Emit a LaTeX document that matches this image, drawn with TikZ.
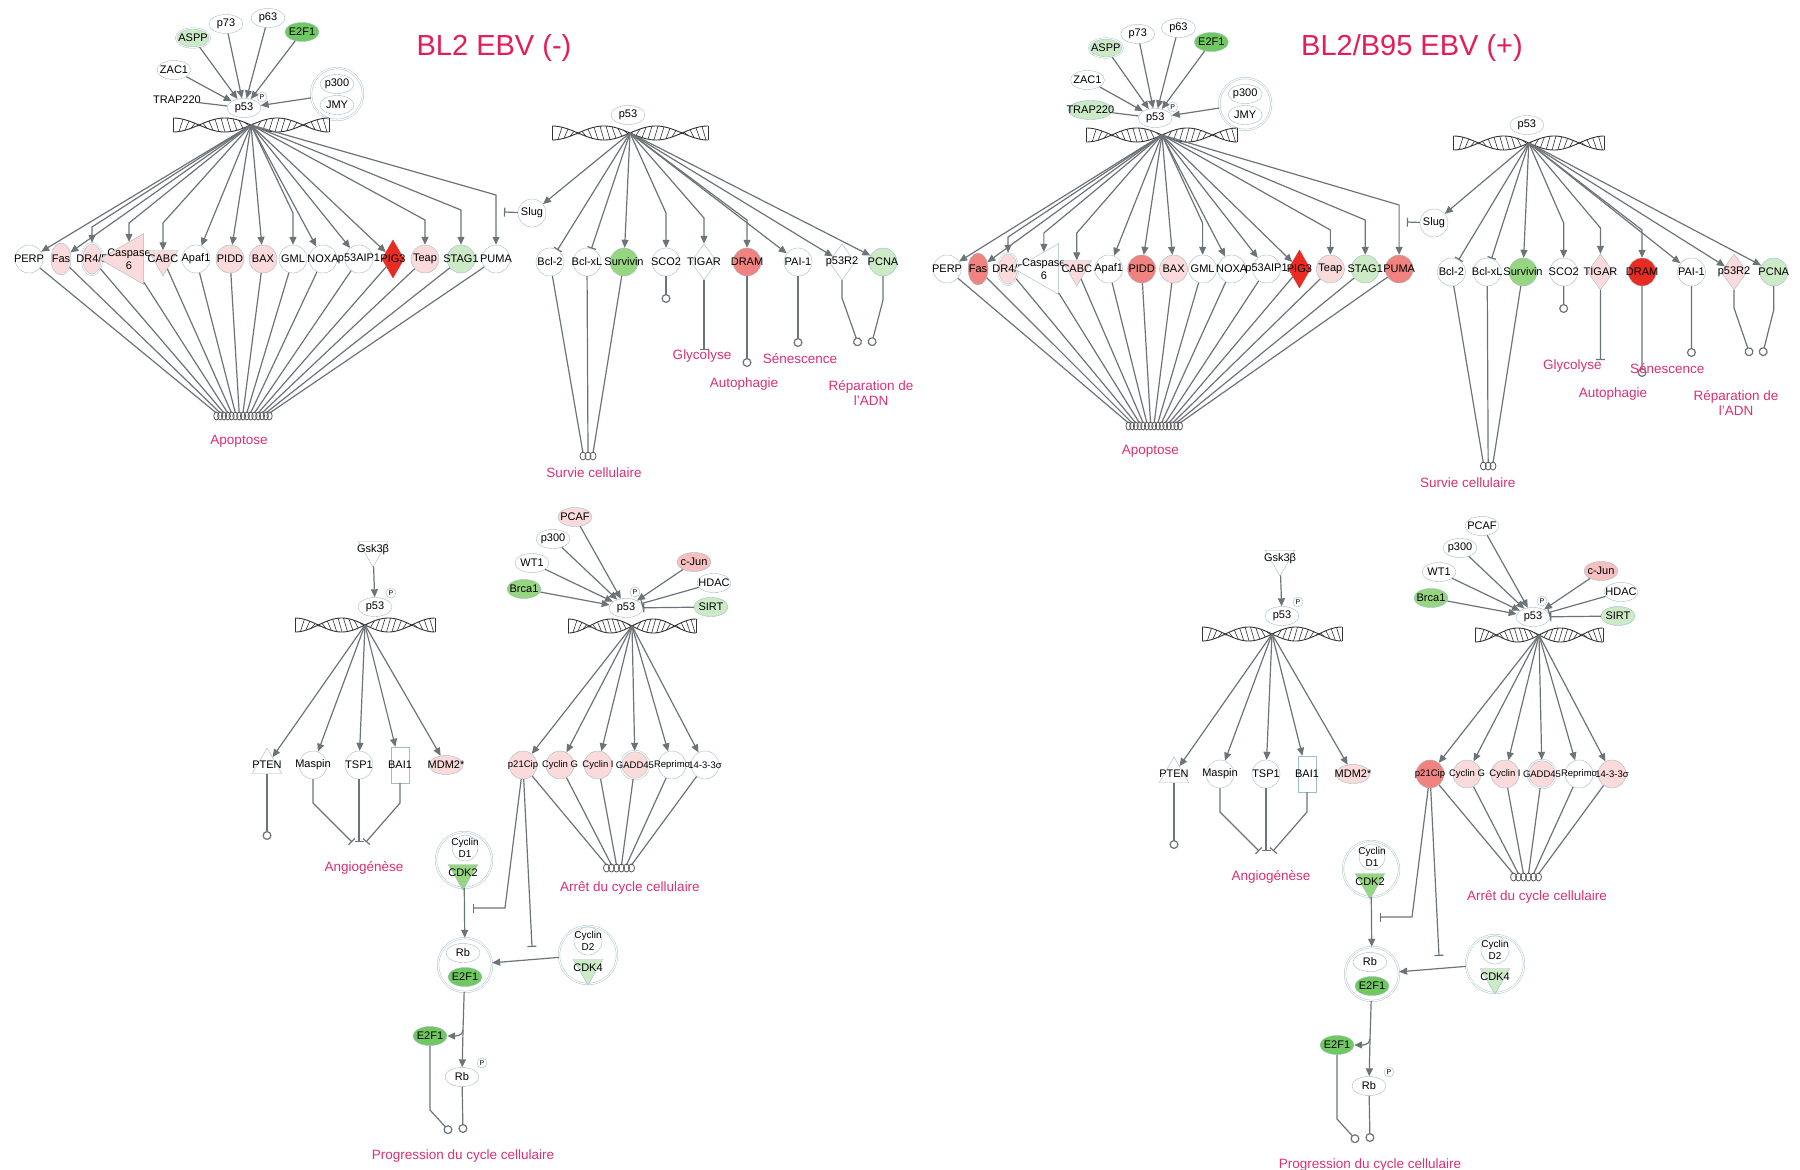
\documentclass[tikz,border=0pt]{standalone}
\usepackage{fontspec}
\setmainfont{Liberation Sans}
\usetikzlibrary{arrows.meta,calc,shapes.geometric}

\definecolor{NodeLine}{RGB}{160,188,198}
\definecolor{Wire}{RGB}{108,116,120}
\definecolor{PinkL}{RGB}{250,218,218}
\definecolor{PinkM}{RGB}{246,192,192}
\definecolor{Salmon}{RGB}{240,130,128}
\definecolor{RedUp}{RGB}{232,44,36}
\definecolor{GreenL}{RGB}{204,234,198}
\definecolor{GreenM}{RGB}{150,214,128}
\definecolor{GreenD}{RGB}{112,200,96}
\definecolor{ProcPink}{RGB}{218,48,118}
\definecolor{TitleRed}{RGB}{228,28,88}

\newcommand{\gl}[1]{\makebox[0pt]{#1}}

\tikzset{
  nodebase/.style={draw=NodeLine,fill=white,inner sep=0pt,font=\fontsize{11}{11}\selectfont},
  gene/.style={nodebase,circle,minimum size=28pt},
  dgene/.style={gene,double,double distance=1.2pt},
  ovalt/.style={nodebase,ellipse,minimum width=20pt,minimum height=32pt},
  dovalt/.style={ovalt,double,double distance=1pt},
  reg/.style={nodebase,ellipse,minimum width=34pt,minimum height=19pt},
  enz/.style={nodebase,diamond,minimum width=26pt,minimum height=36pt},
  pig/.style={nodebase,diamond,draw=RedUp,minimum width=22pt,minimum height=38pt},
  kin/.style={nodebase,regular polygon,regular polygon sides=3,shape border rotate=180,minimum size=34pt},
  phos3/.style={nodebase,regular polygon,regular polygon sides=3,minimum size=34pt},
  pept/.style={nodebase,regular polygon,regular polygon sides=3,shape border rotate=90,minimum size=25pt},
  gpcr/.style={nodebase,rectangle,minimum width=18pt,minimum height=36pt},
  cplx/.style={draw=NodeLine,double,double distance=1.2pt,circle,inner sep=0pt},
  phos/.style={draw=NodeLine,fill=white,circle,inner sep=0pt,minimum size=10pt,font=\fontsize{7}{7}\selectfont},
  proc/.style={text=ProcPink,font=\fontsize{13.5}{15}\selectfont,align=center},
  headline/.style={text=TitleRed,font=\fontsize{29}{30}\selectfont},
  wire/.style={draw=Wire,line width=1.2pt},
  act/.style={wire,-{Triangle[length=8pt,width=7pt]}},
  inh/.style={wire,-{Bar[width=9pt]}},
  endo/.style={wire,-{Circle[open,length=9pt,width=9pt]}},
  strand/.style={draw=black!80,line width=0.9pt},
  coil/.style={draw=black!65,line width=0.8pt}
}

% DNA helix: name, centre, half width
\newcommand{\helix}[3]{%
  \coordinate (#1) at #2;
  \begin{scope}[shift={#2}]
    \draw[strand] plot[domain=-#3:#3,samples=72,smooth] (\x,{7*cos(270*(\x/#3+1))});
    \draw[strand] plot[domain=-#3:#3,samples=72,smooth] (\x,{-7*cos(270*(\x/#3+1))});
    \draw[strand] (-#3,-7) -- (-#3,7) (#3,-7) -- (#3,7);
    \foreach \h in {1,...,25}{
      \pgfmathsetmacro\ha{-#3+\h*#3/13}
      \pgfmathsetmacro\hb{\ha+4}
      \draw[strand,line width=0.6pt] (\ha,{7*cos(270*(\ha/#3+1))}) -- (\hb,{-7*cos(270*(\hb/#3+1))});
    }
  \end{scope}}

% apoptosis network
\newcommand{\apopnet}[1]{%
  \node[reg] (#1p53a) at (244,108) {\gl{p53}};
  \node[phos] (#1p53aP) at (262,97) {P};
  \node[reg,fill=GreenL,double,double distance=1pt] (#1ASPP) at (193,38) {\gl{ASPP}};
  \node[reg,fill=GreenD] (#1E2Fa) at (302,32) {\gl{E2F1}};
  \foreach \n/\t/\x/\y in {p73/p73/226/24, p63/p63/268/18, ZAC/ZAC1/174/70}
    \node[reg] (#1\n) at (\x,\y) {\gl{\t}};
  \node[reg,minimum width=44pt,fill=cTRAP,draw=cTRAPd] (#1TRAP) at (177,100) {\gl{TRAP220}};
  \node[cplx,minimum size=52pt] (#1cpxJ) at (337,94) {};
  \node[reg] (#1p300a) at (337,84) {\gl{p300}};
  \node[reg] (#1JMY) at (337,105) {\gl{JMY}};
  \foreach \n in {ASPP,p73,p63,E2Fa,ZAC}
    \draw[act] (#1\n) -- (#1p53a);
  \draw[wire] (#1TRAP) -- (#1p53a);
  \draw[act] (#1cpxJ) -- (#1p53a);
  \helix{#1dnaA}{(251,125)}{78}
  \coordinate (#1apo) at (243,416);
  \foreach \n/\t/\s/\x/\k/\c [count=\i] in {
      PERP/PERP/gene/29/0/white,
      Fas/Fas/ovalt/61/0/cFas,
      DR/{DR4/5}/dovalt/92/32/PinkL,
      Casp/{\shortstack{Caspase\\6}}/pept/129/36/cCasp,
      CABC/CABC/kin/163/36/PinkL,
      Apaf/Apaf1/gene/196/0/white,
      PIDD/PIDD/gene/230/0/cPIDD,
      BAX/BAX/gene/263/0/PinkL,
      GML/GML/gene/293/46/white,
      NOXA/NOXA/gene/323/0/white,
      AIP/p53AIP1/gene/359/0/white,
      PIG/PIG3/pig/393/0/RedUp,
      Teap/Teap/gene/425/39/PinkL,
      STAG/STAG1/gene/461/49/GreenL,
      PUMA/PUMA/gene/496/64/cPUMA}{
    \node[\s,fill=\c] (#1\n) at (\x,259) {\gl{\t}};
    \ifnum\k=0 \draw[act] (#1dnaA) -- (#1\n);
    \else \draw[act] (#1dnaA) -- ([yshift=\k pt]#1\n.center) -- (#1\n);\fi
    \draw[wire] (#1\n) -- ($(#1apo)+(\i*3.8-30.4,-3)$);
    \draw[coil] ($(#1apo)+(\i*3.8-30.4,0)$) circle[x radius=2.6pt,y radius=4pt];
  }
  \node[proc] (#1apoL) at (239,441) {Apoptose};
}

% survival, metabolism and repair network
\newcommand{\fatenet}[2]{%
  \node[reg] (#1p53b) at (628,115) {\gl{p53}};
  \helix{#1dnaB}{(630,133)}{78}
  \node[gene] (#1Slug) at (532,213) {\gl{Slug}};
  \coordinate (#1slugT) at (504,212);
  \draw[act] (#1dnaB) -- (#1Slug);
  \draw[inh] (#1Slug) -- (#1slugT);
  \foreach \n/\t/\s/\x/\k/\e/\c in {
      Bcl/Bcl-2/gene/550/0/inh/white,
      BclxL/Bcl-xL/gene/587/0/inh/white,
      Surv/Survivin/gene/624/0/act/GreenM,
      SCO/SCO2/gene/666/49/act/white,
      TIG/TIGAR/enz/704/44/act/cTIG,
      DRAM/DRAM/gene/747/42/act/cDRAM,
      PAI/PAI-1/gene/798/0/act/white,
      RR/p53R2/enz/842/0/act/cRR,
      PCNA/PCNA/gene/883/0/act/GreenL}{
    \node[\s,fill=\c] (#1\n) at (\x,262) {\gl{\t}};
    \ifnum\k=0 \draw[\e] (#1dnaB) -- (#1\n);
    \else \draw[\e] (#1dnaB) -- ([yshift=\k pt]#1\n.center) -- (#1\n);\fi
  }
  \coordinate (#1surv) at (588,456);
  \foreach \n [count=\i] in {Bcl,BclxL,Surv}{
    \draw[wire] (#1\n) -- ($(#1surv)+(\i*5-10,-3)$);
    \draw[coil] ($(#1surv)+(\i*5-10,0)$) circle[x radius=3pt,y radius=4pt];
  }
  \coordinate (#1scoE) at (666,303);
  \coordinate (#1glyT) at (704,350);
  \coordinate (#1dramE) at (747,367);
  \coordinate (#1paiE) at (798,347);
  \coordinate (#1repA) at (859,346);
  \coordinate (#1repB) at (871,346);
  \draw[endo] (#1SCO) -- (#1scoE);
  \draw[inh] (#1TIG) -- (#1glyT);
  \draw[endo] (#1DRAM) -- (#1dramE);
  \draw[endo] (#1PAI) -- (#1paiE);
  \draw[endo] (#1RR) -- ([yshift=-36pt]#1RR.center) -- (#1repA);
  \draw[endo] (#1PCNA) -- ([yshift=-38pt]#1PCNA.center) -- (#1repB);
  \node[proc] (#1glyL) at (702+#2,356) {Glycolyse};
  \node[proc] (#1autL) at (744+#2,384) {Autophagie};
  \node[proc] (#1senL) at (800+#2,359) {Sénescence};
  \node[proc] (#1repL) at (871+#2,393) {Réparation de\\l'ADN};
  \node[proc] (#1survL) at (594+#2,473) {Survie cellulaire};
}

% angiogenesis, cell cycle arrest and Rb/E2F1
\newcommand{\lowernet}[1]{%
  %% angiogenesis
  \node[kin] (#1Gsk) at (373,550) {\gl{Gsk3β}};
  \node[reg] (#1p53c) at (375,607) {\gl{p53}};
  \node[phos] (#1p53cP) at (391,593) {P};
  \draw[act] (#1Gsk) -- (#1p53c);
  \helix{#1dnaC}{(365,625)}{70}
  \foreach \n/\t/\s/\x/\c in {PTEN/PTEN/phos3/267/white, Masp/Maspin/gene/313/white,
      TSP/TSP1/gene/359/white, BAI/BAI1/gpcr/400/white, MDM/MDM2*/reg/446/PinkL}{
    \node[\s,fill=\c] (#1\n) at (\x,765) {\gl{\t}};
    \draw[act] (#1dnaC) -- (#1\n);
  }
  \coordinate (#1ptenE) at (267,840);
  \coordinate (#1angio) at (359,842);
  \draw[endo] (#1PTEN) -- (#1ptenE);
  \draw[inh] (#1Masp) -- ([yshift=-38pt]#1Masp.center) -- ([xshift=-7pt]#1angio);
  \draw[inh] (#1TSP) -- (#1angio);
  \draw[inh] (#1BAI) -- ([yshift=-38pt]#1BAI.center) -- ([xshift=7pt]#1angio);
  \node[proc] (#1angL) at (364,868) {Angiogénèse};
  %% cell cycle arrest
  \node[reg] (#1p53d) at (626,608) {\gl{p53}};
  \node[phos] (#1p53dP) at (635,592) {P};
  \foreach \n/\t/\x/\y/\c/\e in {PCAF/PCAF/575/517/cPCAF/act, p300/p300/553/539/white/act,
      WT/WT1/532/563/white/act, Brca/Brca1/524/589/GreenM/act, Jun/c-Jun/694/562/PinkM/act,
      HDAC/HDAC/714/583/white/inh, SIRT/SIRT/711/607/GreenL/inh}{
    \node[reg,fill=\c] (#1\n) at (\x,\y) {\gl{\t}};
    \draw[\e] (#1\n) -- (#1p53d);
  }
  \helix{#1dnaD}{(632,626)}{64}
  \coordinate (#1arr) at (619,868);
  \foreach \n/\t/\s/\x/\c [count=\i] in {p21/p21Cip/gene/523/cP21, CycG/Cyclin G/gene/560/PinkL,
      Cyc/Cyclin I/gene/598/PinkL, GADD/GADD45/dgene/635/PinkL, Rep/Reprimo/gene/672/white,
      S1433/14-3-3σ/gene/705/cS1433}{
    \node[\s,fill=\c,font=\fontsize{9.5}{10}\selectfont] (#1\n) at (\x,765) {\gl{\t}};
    \draw[act] (#1dnaD) -- (#1\n);
    \draw[wire] (#1\n) -- ($(#1arr)+(\i*5-17.5,-3)$);
    \draw[coil] ($(#1arr)+(\i*5-17.5,0)$) circle[x radius=3pt,y radius=4pt];
  }
  \node[proc] (#1arrL) at (630,888) {Arrêt du cycle cellulaire};
  %% Rb / E2F1
  \node[cplx,minimum size=56pt] (#1cdk2c) at (464,860) {};
  \node[gene,minimum size=26pt,font=\fontsize{10}{10}\selectfont] (#1CycD1) at (465,848) {\gl{\shortstack{Cyclin\\D1}}};
  \node[kin,fill=GreenM] (#1CDK2) at (463,873) {\gl{CDK2}};
  \node[cplx,minimum size=54pt] (#1rbc) at (465,965) {};
  \node[reg] (#1Rba) at (463,953) {\gl{Rb}};
  \node[reg,fill=GreenD] (#1E2Fb) at (465,977) {\gl{E2F1}};
  \node[cplx,minimum size=58pt] (#1cdk4c) at (588,955) {};
  \node[gene,minimum size=28pt,font=\fontsize{10}{10}\selectfont] (#1CycD2) at (588,941) {\gl{\shortstack{Cyclin\\D2}}};
  \node[kin,fill=GreenL] (#1CDK4) at (588,968) {\gl{CDK4}};
  \coordinate (#1cdkT) at (473,908);
  \coordinate (#1rbT) at (532,947);
  \draw[inh] (#1p21) -- ([xshift=32pt]#1cdkT) -- (#1cdkT);
  \draw[inh] (#1p21) -- (#1rbT);
  \draw[act] (#1cdk2c) -- (#1rbc);
  \draw[act] (#1cdk4c) -- (#1rbc);
  \node[reg,fill=GreenD] (#1E2Fc) at (430,1036) {\gl{E2F1}};
  \node[reg] (#1Rbb) at (462,1077) {\gl{Rb}};
  \node[phos] (#1RbP) at (482,1063) {P};
  \coordinate (#1split) at (463,1030);
  \draw[wire] (#1rbc) -- (#1split);
  \draw[act] (#1split) -- (#1Rbb);
  \draw[act] (#1split) to[out=-90,in=0] (#1E2Fc);
  \coordinate (#1progA) at (451,1133);
  \coordinate (#1progB) at (463,1133);
  \draw[endo] (#1E2Fc) -- ([yshift=-74pt]#1E2Fc.center) -- (#1progA);
  \draw[endo] (#1Rbb) -- (#1progB);
  \node[proc] (#1progL) at (463,1156) {Progression du cycle cellulaire};
}

\begin{document}
\begin{tikzpicture}[x=1pt,y=-1pt]
  \useasboundingbox (0,0) rectangle (1800,1170);
  \fill[white] (0,0) rectangle (1800,1170);
  %% BL2 EBV (-)
  \colorlet{cTRAP}{white}\colorlet{cTRAPd}{white}
  \colorlet{cFas}{PinkL}\colorlet{cCasp}{PinkL}\colorlet{cPIDD}{PinkL}\colorlet{cPUMA}{white}
  \colorlet{cTIG}{white}\colorlet{cDRAM}{Salmon}\colorlet{cRR}{white}
  \colorlet{cPCAF}{PinkL}\colorlet{cP21}{PinkL}\colorlet{cS1433}{white}
  \node[headline] (ttlL) at (494,48) {BL2 EBV (-)};
  \apopnet{L}
  \fatenet{L}{0}
  \lowernet{L}
  %% BL2/B95 EBV (+)
  \colorlet{cTRAP}{GreenL}\colorlet{cTRAPd}{NodeLine}
  \colorlet{cFas}{Salmon}\colorlet{cCasp}{white}\colorlet{cPIDD}{Salmon}\colorlet{cPUMA}{Salmon}
  \colorlet{cTIG}{PinkL}\colorlet{cDRAM}{RedUp}\colorlet{cRR}{PinkL}
  \colorlet{cPCAF}{white}\colorlet{cP21}{Salmon}\colorlet{cS1433}{PinkL}
  \node[headline] (ttlR) at (1412,48) {BL2/B95 EBV (+)};
  \begin{scope}[shift={(919,10)},xscale=0.968]
    \apopnet{R}
    \fatenet{R}{-27}
  \end{scope}
  \begin{scope}[shift={(907,9)}]
    \lowernet{R}
  \end{scope}
\end{tikzpicture}
\end{document}
